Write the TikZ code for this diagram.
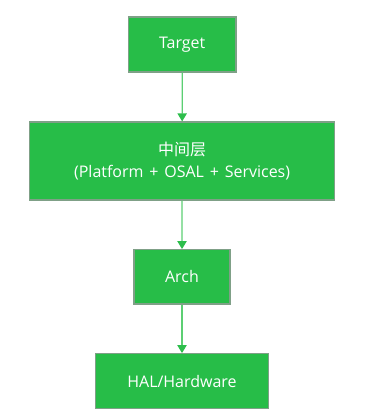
\documentclass[tikz,border=0pt]{standalone}
\usepackage{fontspec}
\setmainfont{Open Sans}[WordSpace=1.4]
\newfontfamily\cjk{Noto Sans CJK SC}
\usetikzlibrary{arrows.meta}
\definecolor{boxfill}{HTML}{27BD48}
\definecolor{boxline}{HTML}{7FA087}
\definecolor{linkcol}{HTML}{5CCF73}
\definecolor{tipcol}{HTML}{2DBE4C}
\tikzset{
  blk/.style={draw=boxline, line width=0.9pt, fill=boxfill, text=white, font=\fontsize{12pt}{17pt}\selectfont, inner sep=0pt, align=center},
  link/.style={draw=linkcol, line width=0.9pt, -{Triangle[length=6pt,width=7pt,color=tipcol]}}
}
\begin{document}
\begin{tikzpicture}[x=0.75pt,y=-0.75pt]
\useasboundingbox (0,0) rectangle (368,419);
\node[blk, minimum width=107.5*0.75pt, minimum height=55*0.75pt] (t) at (182.25,44.5) {\raisebox{-1pt}{Target}};
\node[blk, minimum width=304.8*0.75pt, minimum height=78*0.75pt] (m) at (182.1,161) {{\cjk 中间层}\\(Platform + OSAL + Services)};
\node[blk, minimum width=96*0.75pt, minimum height=54.3*0.75pt] (a) at (182,276.8) {\raisebox{-1pt}{Arch}};
\node[blk, minimum width=172.5*0.75pt, minimum height=54.6*0.75pt] (h) at (182,381) {\raisebox{-1pt}{HAL/Hardware}};
\draw[link] (t) -- (m);
\draw[link] (m) -- (a);
\draw[link] (a) -- (h);
\end{tikzpicture}
\end{document}
